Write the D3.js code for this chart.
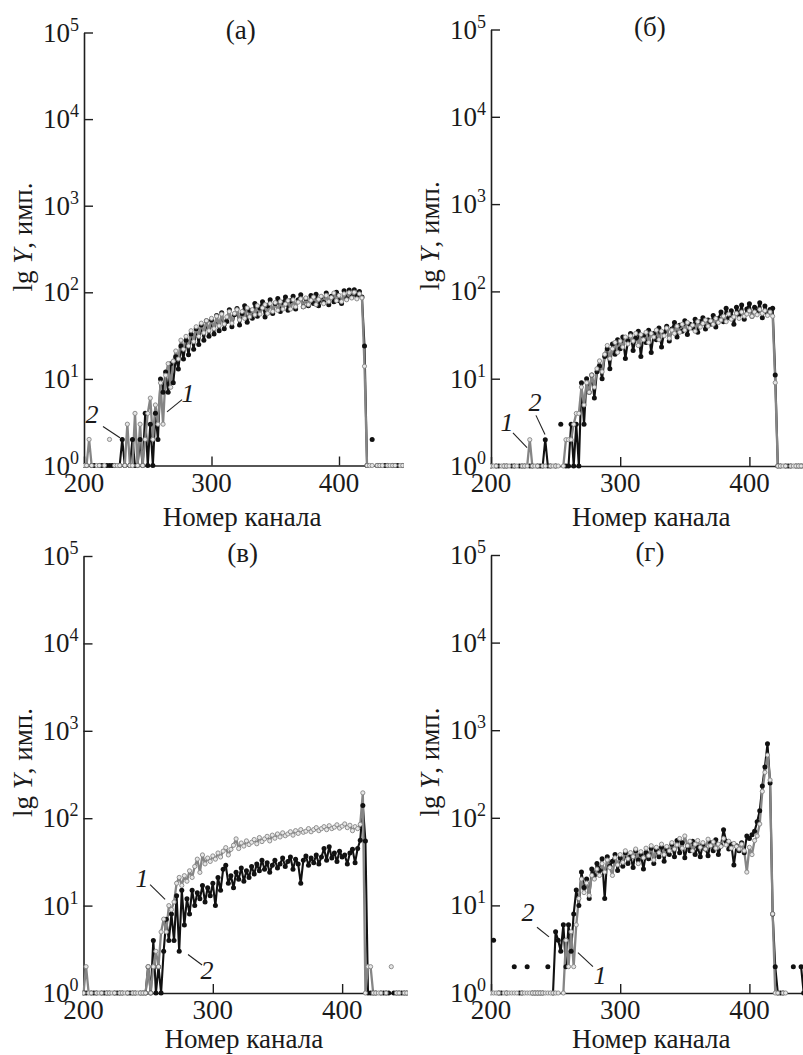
<!DOCTYPE html>
<html><head><meta charset="utf-8">
<script src="https://cdn.jsdelivr.net/npm/d3@7"></script>
<style>
body{margin:0;background:#fff}
svg{display:block}
text{font-family:"Liberation Serif","Times New Roman",serif;fill:#1a1a1a}
</style>
</head><body>
<svg id="chart" width="803" height="1055"></svg>
<script>
// ---- data ----
const channels = d3.range(200, 451, 2);   // channel numbers (step 2)
const xTickValues = [200, 300, 400];
const yTickValues = [1, 10, 100, 1000, 10000, 100000];
const yTickExponents = ["0", "1", "2", "3", "4", "5"];
const panelTitles = ["(а)", "(б)", "(в)", "(г)"];
const xTitle = "Номер канала";

// panel (а): series 1 (grey) and 2 (black); 0 = no count (not drawn on log axis)
const a1 = [1,1,2,1,0,1,1,0,1,0, 2,0,1,1,1,0,1,3,1,1, 4,1,3,1,2,4,6,2,5,3,
 9,3,11,15,8,16,21,17,28,22,
 31,24,36,27,40,31,44,34,47,36,
 50,38,53,41,56,43,52,60,44,57,
 63,48,60,50,66,52,63,55,70,56,
 66,72,57,74,60,76,62,78,64,73,
 80,64,82,68,77,84,68,86,72,81,
 88,72,83,90,74,92,78,87,98,80,
 92,78,96,82,99,86,100,84,96,86,
 14,1,1,1,0,1,1,1,0,1,1,1,1,0,1,1];
const a2 = [1,1,0,1,1,0,1,1,0,1, 1,1,1,0,1,2,1,0,1,2, 1,1,2,1,4,1,3,1,4,2,
 10,7,12,7,15,9,18,13,24,17,
 28,19,33,22,38,25,42,28,47,31,
 48,33,54,36,58,38,46,63,40,55,
 65,42,57,70,45,62,50,74,53,66,
 78,52,70,82,57,74,85,60,77,88,
 62,80,90,64,82,94,68,85,70,92,
 74,95,70,88,76,98,72,90,78,100,
 80,74,104,84,106,88,107,92,102,88,
 24,1,0,2,0,1,1,0,1,1,0,1,1,1,0,1];
// panel (б)
const b1 = [1,1,1,0,1,1,1,1,0,1, 1,0,1,1,1,2,1,1,1,0, 1,1,0,1,1,1,1,0,1,2,
 2,2,3,4,4,8,5,9,7,11,
 8,13,16,12,19,24,17,22,26,20,
 27,23,30,25,31,27,33,24,32,28,
 34,26,33,30,36,28,35,31,38,29,
 36,33,40,34,42,36,44,38,41,35,
 45,39,43,47,40,46,42,49,44,47,
 52,45,55,48,51,56,49,58,52,55,
 60,52,58,54,62,56,60,53,58,52,
 9,1,1,1,1,0,1,1,1,1,1,0,1,1,1,1];
const b2 = [1,0,1,1,0,1,1,0,1,1, 0,1,1,1,0,1,1,0,1,1, 1,2,1,1,0,1,0,3,0,1,
 1,3,1,3,1,9,3,10,7,11,
 6,12,14,10,18,22,13,25,19,28,
 22,30,17,27,33,21,29,35,18,31,
 26,36,20,33,28,38,23,34,40,27,
 37,44,30,41,35,46,32,42,38,48,
 34,45,50,37,47,42,53,39,49,58,
 45,64,50,60,42,66,54,70,48,63,
 72,52,66,58,74,50,68,56,62,64,
 11,1,1,0,1,1,1,0,1,1,1,1,0,1,1,1];
// panel (в)
const c1 = [1,2,1,1,0,1,1,1,0,1, 1,1,1,0,1,1,1,1,0,1, 1,1,1,1,1,2,1,2,3,2,
 5,7,5,10,9,11,18,21,17,22,
 19,25,21,28,34,24,38,30,35,32,
 37,34,40,36,42,46,38,44,49,58,
 45,52,48,55,50,53,57,51,60,54,
 58,62,55,64,59,66,61,68,63,66,
 70,64,72,67,74,69,71,76,70,74,
 78,72,76,80,74,82,76,79,84,77,
 81,86,78,83,72,80,76,85,195,1,
 2,2,1,1,1,1,0,1,0,2,0,1,1,0,1,1];
const c2 = [1,1,0,1,1,1,0,1,1,1, 1,0,1,1,1,1,0,1,1,1, 1,0,1,1,1,2,1,4,1,2,
 1,3,7,4,8,4,13,3,15,6,
 12,8,15,10,14,12,17,11,16,13,
 18,10,21,15,26,29,18,22,16,24,
 20,27,19,25,21,28,23,30,25,33,
 26,31,24,29,33,27,30,35,28,32,
 36,26,34,30,18,33,37,29,35,31,
 38,30,36,45,33,47,35,40,32,42,
 36,38,30,40,44,31,45,56,140,55,
 1,1,1,1,0,1,1,1,1,0,1,1,1,1,1,1];
// panel (г)
const d1 = [1,1,1,1,0,1,1,1,1,1, 1,0,1,1,1,1,1,1,1,1, 1,1,1,1,1,1,1,0,1,4,
 2,5,2,6,12,20,14,18,13,22,
 20,26,22,30,24,33,27,22,35,29,
 38,31,42,34,40,36,44,30,41,35,
 45,37,48,33,46,40,50,38,47,42,
 52,44,49,58,45,62,48,54,42,50,
 55,46,52,44,57,48,53,45,50,47,
 58,49,54,45,51,47,44,50,42,24,
 46,38,55,62,85,200,330,520,270,8,
 1,1,0,1,1,0,0,0,0,0,0,0,0,0,0,0];
const d2 = [0,4,0,1,1,0,1,0,0,2, 0,1,1,0,2,0,1,1,1,1, 1,0,2,0,1,5,4,3,6,2,
 6,3,8,15,10,24,16,20,12,26,
 22,30,25,34,12,36,28,32,38,25,
 35,28,40,30,36,27,42,33,38,26,
 40,34,45,30,43,36,46,32,44,38,
 50,36,55,40,52,35,48,42,54,38,
 46,36,50,44,37,52,42,56,38,48,
 73,54,44,50,29,48,42,52,40,62,
 58,64,70,90,120,230,380,700,250,8,
 2,1,1,1,0,0,0,2,0,0,2,1,1,1,1,1];

// curve labels: text position and leader line in data units (channel, lg Y)
const annA = [{t:"2", tc:206.3, tl:0.59, c1:214.9, l1:0.45, c2:228.2, l2:0.32},
              {t:"1", tc:281.6, tl:0.84, c1:276.9, l1:0.76, c2:265.1, l2:0.62}];
const annB = [{t:"1", tc:212.4, tl:0.50, c1:217.0, l1:0.38, c2:227.9, l2:0.21},
              {t:"2", tc:234.0, tl:0.73, c1:234.8, l1:0.58, c2:241.8, l2:0.36}];
const annC = [{t:"1", tc:245.3, tl:1.32, c1:251.5, l1:1.24, c2:263.1, l2:1.07},
              {t:"2", tc:295.5, tl:0.26, c1:280.8, l1:0.44, c2:291.7, l2:0.32}];
const annD = [{t:"2", tc:228.6, tl:0.93, c1:235.6, l1:0.75, c2:244.9, l2:0.64},
              {t:"1", tc:284.4, tl:0.21, c1:267.3, l1:0.46, c2:278.9, l2:0.30}];

// ---- layout ----
const panels = [
  {id:"a", s1:a1, s2:a2, ann:annA, left:84,   right:402.75, top:32.5, bottom:465.5, xt:60},
  {id:"b", s1:b1, s2:b2, ann:annB, left:491,  right:814,    top:29.5, bottom:466,   xt:60},
  {id:"c", s1:c1, s2:c2, ann:annC, left:83.5, right:406.8,  top:556,  bottom:993,   xt:55},
  {id:"d", s1:d1, s2:d2, ann:annD, left:491,  right:814,    top:555,  bottom:993,   xt:55}
];

const svg = d3.select("#chart");
const defs = svg.append("defs");
const AX = "#1e1e1e";

panels.forEach((p, pi) => {
  const x = d3.scaleLinear().domain([200, 450]).range([p.left, p.right]);
  const y = d3.scaleLog().domain([1, 1e5]).range([p.bottom, p.top]);
  const g = svg.append("g");

  defs.append("clipPath").attr("id", "clip-" + p.id)
    .append("rect").attr("x", p.left - 1).attr("y", p.top - 10)
    .attr("width", p.right - p.left + 2).attr("height", p.bottom - p.top + 14);

  // axes
  const yAx = g.append("g").attr("transform", `translate(${p.left},0)`)
    .call(d3.axisRight(y).tickValues(yTickValues).tickSizeInner(9).tickSizeOuter(0).tickFormat(""));
  const xAx = g.append("g").attr("transform", `translate(0,${p.bottom})`)
    .call(d3.axisBottom(x).tickValues(xTickValues).tickSizeInner(-9).tickSizeOuter(0).tickFormat(""));
  [yAx, xAx].forEach(a => {
    a.selectAll("path.domain").attr("stroke", AX).attr("stroke-width", 1.6);
    a.selectAll(".tick line").attr("stroke", AX).attr("stroke-width", 1.4);
  });

  // y tick labels 10^n
  yTickValues.forEach((v, i) => {
    const t = g.append("text").attr("x", p.left - 5).attr("y", y(v) + 9)
      .attr("text-anchor", "end").attr("font-size", 27);
    t.append("tspan").text("10");
    t.append("tspan").attr("font-size", 18).attr("dy", -11).text(yTickExponents[i]);
  });
  // x tick labels
  xTickValues.forEach(v => {
    g.append("text").attr("x", x(v)).attr("y", p.bottom + 26)
      .attr("text-anchor", "middle").attr("font-size", 27).text(v);
  });
  // x title
  g.append("text").attr("x", x(324)).attr("y", p.bottom + p.xt)
    .attr("text-anchor", "middle").attr("font-size", 27).text(xTitle);
  // y title
  const cy = (p.top + p.bottom) / 2 - 12;
  const yt = g.append("text").attr("transform", `translate(${p.left - 52},${cy}) rotate(-90)`)
    .attr("text-anchor", "middle").attr("font-size", 27);
  yt.append("tspan").text("lg ");
  yt.append("tspan").attr("font-style", "italic").text("Y");
  yt.append("tspan").text(", имп.");
  // panel title
  g.append("text").attr("x", x(323)).attr("y", p.top + 6)
    .attr("text-anchor", "middle").attr("font-size", 27).text(panelTitles[pi]);

  // data
  const plot = g.append("g").attr("clip-path", `url(#clip-${p.id})`);
  const line = d3.line().defined(d => d.v > 0).x(d => x(d.c)).y(d => y(d.v));
  const s1 = channels.map((c, i) => ({c, v: p.s1[i]}));
  const s2 = channels.map((c, i) => ({c, v: p.s2[i]}));

  plot.append("path").datum(s2).attr("d", line).attr("fill", "none")
    .attr("stroke", "#111").attr("stroke-width", 2.1).attr("stroke-linejoin", "round");
  plot.append("path").datum(s1).attr("d", line).attr("fill", "none")
    .attr("stroke", "#858585").attr("stroke-width", 2.3).attr("stroke-linejoin", "round");
  plot.selectAll("circle.s2").data(s2.filter(d => d.v > 0)).join("circle").attr("class", "s2")
    .attr("cx", d => x(d.c)).attr("cy", d => y(d.v)).attr("r", 2.5).attr("fill", "#111");
  plot.selectAll("circle.s1").data(s1.filter(d => d.v > 0)).join("circle").attr("class", "s1")
    .attr("cx", d => x(d.c)).attr("cy", d => y(d.v)).attr("r", 2.1)
    .attr("fill", "#e6e6e6").attr("stroke", "#858585").attr("stroke-width", 0.9);

  // curve labels
  p.ann.forEach(a => {
    g.append("line").attr("x1", x(a.c1)).attr("y1", y(Math.pow(10, a.l1)))
      .attr("x2", x(a.c2)).attr("y2", y(Math.pow(10, a.l2)))
      .attr("stroke", "#222").attr("stroke-width", 1.1);
    g.append("text").attr("x", x(a.tc)).attr("y", y(Math.pow(10, a.tl)) + 9)
      .attr("text-anchor", "middle").attr("font-size", 26).attr("font-style", "italic").text(a.t);
  });
});
</script>
</body></html>
